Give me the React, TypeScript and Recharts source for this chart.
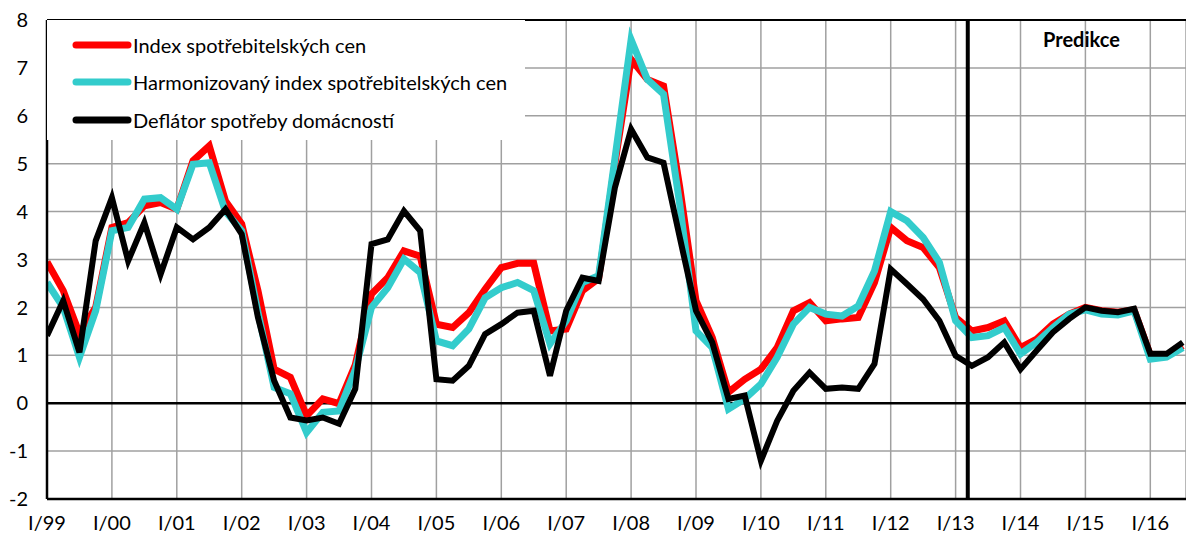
import React from "react";
import {
  ComposedChart,
  Line,
  XAxis,
  YAxis,
  CartesianGrid,
  ReferenceLine,
  Legend,
} from "recharts";

// quarterly year-on-year growth, I/99 .. III/16
const years = ["99", "00", "01", "02", "03", "04", "05", "06", "07", "08", "09", "10", "11", "12", "13", "14", "15", "16"];

const cpi = [
  2.95, 2.35, 1.45, 2.0, 3.67, 3.77, 4.12, 4.19, 4.05, 5.06, 5.37, 4.22,
  3.74, 2.35, 0.71, 0.54, -0.26, 0.09, -0.01, 0.8, 2.28, 2.62, 3.18, 3.07,
  1.65, 1.58, 1.89, 2.38, 2.83, 2.92, 2.92, 1.51, 1.55, 2.35, 2.6, 5.0,
  7.18, 6.76, 6.62, 4.5, 2.14, 1.37, 0.23, 0.5, 0.71, 1.16, 1.93, 2.1,
  1.72, 1.76, 1.79, 2.52, 3.67, 3.39, 3.25, 2.83, 1.79, 1.51, 1.58, 1.72,
  1.16, 1.34, 1.65, 1.86, 2.0, 1.93, 1.9, 1.95, 1.0, 1.0, 1.2,
];

const hicp = [
  2.52, 2.0, 0.96, 1.93, 3.6, 3.67, 4.26, 4.29, 4.05, 4.99, 5.02, 4.0,
  3.6, 1.9, 0.33, 0.2, -0.61, -0.19, -0.16, 0.7, 2.0, 2.41, 3.01, 2.73,
  1.3, 1.2, 1.55, 2.2, 2.41, 2.52, 2.35, 1.24, 1.72, 2.52, 2.66, 5.1,
  7.59, 6.76, 6.45, 4.15, 1.51, 1.16, -0.12, 0.09, 0.4, 0.96, 1.65, 2.0,
  1.86, 1.82, 2.03, 2.76, 4.0, 3.81, 3.46, 2.94, 1.72, 1.37, 1.41, 1.58,
  1.03, 1.27, 1.58, 1.86, 1.95, 1.86, 1.84, 1.93, 0.92, 0.96, 1.16,
];

const deflator = [
  1.41, 2.14, 1.06, 3.39, 4.29, 2.97, 3.77, 2.69, 3.67, 3.42, 3.67, 4.05,
  3.53, 1.79, 0.47, -0.3, -0.36, -0.3, -0.43, 0.3, 3.32, 3.42, 4.01, 3.6,
  0.5, 0.47, 0.78, 1.44, 1.65, 1.89, 1.93, 0.57, 1.93, 2.62, 2.55, 4.5,
  5.72, 5.13, 5.02, 3.46, 1.93, 1.27, 0.09, 0.16, -1.2, -0.37, 0.26, 0.64,
  0.3, 0.33, 0.3, 0.82, 2.8, 2.49, 2.17, 1.72, 0.99, 0.78, 0.96, 1.27,
  0.71, 1.1, 1.48, 1.76, 2.0, 1.93, 1.9, 1.97, 1.03, 1.03, 1.27,
];

const yTicks = [-2, -1, 0, 1, 2, 3, 4, 5, 6, 7, 8];
const xTicks = years.map((_, i) => i * 4);
const forecastStart = 56.75;

const series = [
  { key: "cpi", name: "Index spotřebitelských cen", color: "#ff0000", width: 7 },
  { key: "hicp", name: "Harmonizovaný index spotřebitelských cen", color: "#33cccc", width: 7 },
  { key: "deflator", name: "Deflátor spotřeby domácností", color: "#000000", width: 6 },
];

const data = cpi.map((v, i) => ({
  q: i,
  cpi: v,
  hicp: hicp[i],
  deflator: deflator[i],
}));

const FONT = "Lato, 'Open Sans', sans-serif";

function LegendBox() {
  return (
    <div
      style={{
        width: 478,
        height: 120,
        background: "#fff",
        fontFamily: FONT,
        fontSize: 20,
        color: "#000",
        paddingTop: 6,
        boxSizing: "border-box",
      }}
    >
      {series.map((s) => (
        <div key={s.key} style={{ display: "flex", alignItems: "center", height: 37.5 }}>
          <svg width={86} height={12} style={{ display: "block" }}>
            <line x1={29} y1={6} x2={81} y2={6} stroke={s.color} strokeWidth={7} strokeLinecap="round" />
          </svg>
          <span>{s.name}</span>
        </div>
      ))}
    </div>
  );
}

export default function App() {
  return (
    <div style={{ position: "absolute", left: 0, top: 0, width: 1186, height: 535, background: "#fff" }}>
      <ComposedChart
        width={1186}
        height={535}
        data={data}
        margin={{ top: 20, right: 0, bottom: 0, left: 0 }}
      >
        <CartesianGrid stroke="#a0a0a0" strokeWidth={1.5} />
        <XAxis
          type="number"
          dataKey="q"
          domain={[0, 70.2]}
          ticks={xTicks}
          tickFormatter={(v: number) => "I/" + years[v / 4]}
          allowDataOverflow
          interval={0}
          tickLine={false}
          tickSize={0}
          tickMargin={17}
          axisLine={{ stroke: "#000", strokeWidth: 2.5 }}
          tick={{ fontSize: 20, fill: "#000", fontFamily: FONT }}
          height={36}
        />
        <YAxis
          type="number"
          domain={[-2, 8]}
          ticks={yTicks}
          interval={0}
          width={47}
          tickLine={false}
          tickSize={0}
          tickMargin={19}
          axisLine={{ stroke: "#000", strokeWidth: 2.5 }}
          tick={{ fontSize: 20, fill: "#000", fontFamily: FONT }}
        />
        <ReferenceLine y={0} stroke="#000" strokeWidth={2.5} />
        <ReferenceLine y={8} stroke="#000" strokeWidth={2} />
        {series.map((s) => (
          <Line
            key={s.key}
            type="linear"
            dataKey={s.key}
            name={s.name}
            stroke={s.color}
            strokeWidth={s.width}
            dot={false}
            activeDot={false}
            isAnimationActive={false}
          />
        ))}
        <ReferenceLine x={forecastStart} stroke="#000" strokeWidth={4} />
        <Legend
          layout="vertical"
          align="center"
          verticalAlign="middle"
          wrapperStyle={{ left: 47, top: 20, width: 478, height: 120 }}
          content={() => <LegendBox />}
        />
      </ComposedChart>
      <div
        style={{
          position: "absolute",
          left: 1043,
          top: 27,
          fontFamily: FONT,
          fontSize: 20,
          fontWeight: 700,
          color: "#000",
        }}
      >
        Predikce
      </div>
    </div>
  );
}
